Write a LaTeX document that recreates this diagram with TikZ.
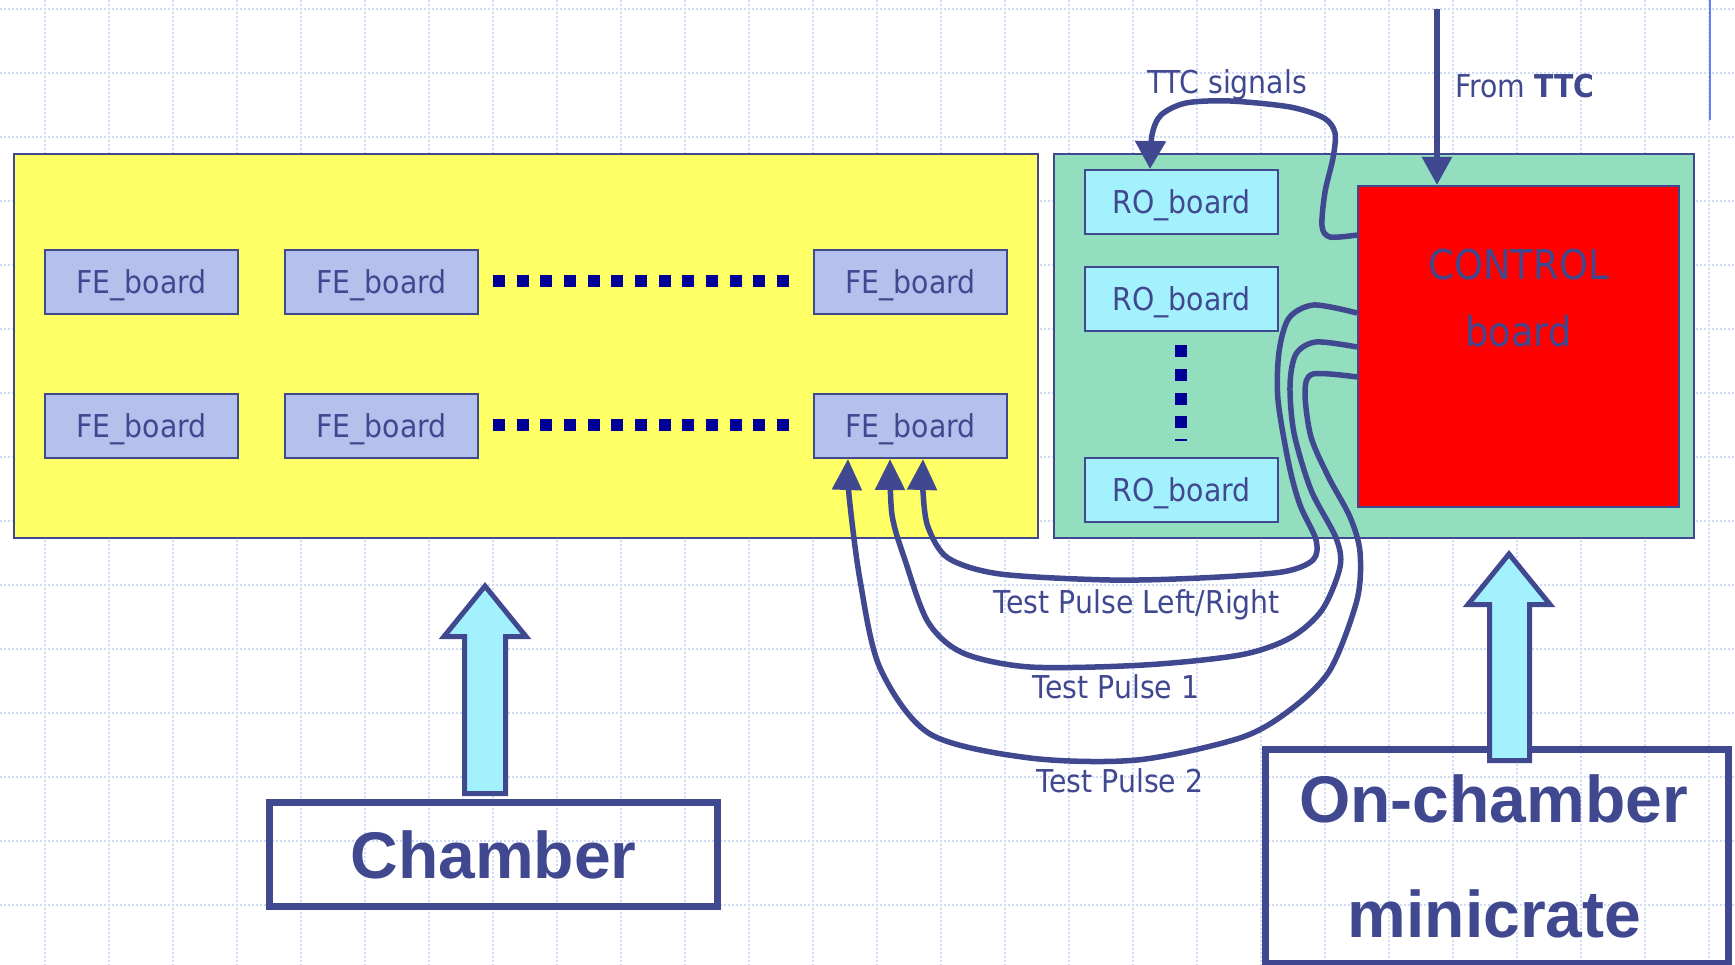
\documentclass[tikz,border=0pt]{standalone}
\usepackage{fontspec}
\setmainfont{DejaVu Sans}
\newfontfamily\labfont[FakeStretch=0.9]{DejaVu Sans}
\newfontfamily\headfont{Liberation Sans}
\usetikzlibrary{arrows.meta,calc}

\definecolor{ink}{RGB}{64,72,144}
\definecolor{gridc}{RGB}{206,217,248}
\definecolor{feyellow}{RGB}{255,255,102}
\definecolor{crategreen}{RGB}{146,222,190}
\definecolor{fefill}{RGB}{180,193,236}
\definecolor{rofill}{RGB}{162,241,253}
\definecolor{dotblue}{RGB}{0,0,153}
\definecolor{ctrlred}{RGB}{255,0,0}
\definecolor{edgeblue}{RGB}{100,128,240}

\newcommand\labsize{\fontsize{31.5}{36}\selectfont}

\tikzset{
  gridline/.style={gridc, line width=1.4pt, dash pattern=on 2pt off 2pt},
  panel/.style={draw=ink, line width=2pt, inner sep=0pt, anchor=north west},
  board/.style={panel, minimum width=193pt, minimum height=64pt, text=ink,
    font=\labfont\labsize, text height=23pt, text depth=0pt},
  feboard/.style={board, fill=fefill},
  roboard/.style={board, fill=rofill},
  wire/.style={draw=ink, line width=5.5pt, line join=round,
    -{Triangle[length=31pt,width=29pt]}},
  caption/.style={text=ink, font=\labfont\labsize, inner sep=0pt, anchor=base},
  ctrltext/.style={caption, font=\labfont\fontsize{41}{48}\selectfont},
  labelbox/.style={draw=ink, line width=7pt, inner sep=0pt, text=ink,
    font=\headfont\bfseries\fontsize{66}{80}\selectfont},
  bigtext/.style={text=ink, font=\headfont\bfseries\fontsize{66}{80}\selectfont,
    inner sep=0pt, anchor=base},
  bigarrow/.style={draw=ink, fill=rofill, line width=5pt, line join=miter},
}

\begin{document}
\begin{tikzpicture}[x=1pt,y=-1pt]
\useasboundingbox (0,0) rectangle (1735,965);

% background grid
\foreach \k in {0,...,26} \draw[gridline] ({45+64*\k},0) -- ({45+64*\k},965);
\foreach \k in {0,...,14} \draw[gridline] (0,{9+64*\k}) -- (1735,{9+64*\k});
\draw[edgeblue, line width=2pt] (1710,0) -- (1710,120);

% chamber area with the front-end boards
\node[panel, fill=feyellow, minimum width=1024pt, minimum height=384pt] (fearea) at (13,153) {};
\node[feboard] (fe11) at (44,249) {FE\_board};
\node[feboard] (fe12) at (284,249) {FE\_board};
\node[feboard] (fe13) at (813,249) {FE\_board};
\node[feboard] (fe21) at (44,393) {FE\_board};
\node[feboard] (fe22) at (284,393) {FE\_board};
\node[feboard] (fe23) at (813,393) {FE\_board};
\foreach \i in {0,...,12} {
  \fill[dotblue] ({493+23.67*\i},275) rectangle ++(12,12);
  \fill[dotblue] ({493+23.67*\i},419) rectangle ++(12,12);
}

% minicrate with read-out boards and control board
\node[panel, fill=crategreen, minimum width=640pt, minimum height=384pt] (roarea) at (1053,153) {};
\node[roboard] (ro1) at (1084,169) {RO\_board};
\node[roboard] (ro2) at (1084,266) {RO\_board};
\node[roboard] (ro3) at (1084,457) {RO\_board};
\foreach \y in {345,369,393,416} \fill[dotblue] (1175,\y) rectangle ++(12,12);
\fill[dotblue] (1175,439) rectangle (1187,441);

\node[panel, fill=ctrlred, minimum width=321pt, minimum height=321pt] (ctrl) at (1357,185) {};
\node[ctrltext] at ([yshift=-95pt]ctrl.north) {CONTROL};
\node[ctrltext] at ([yshift=-162pt]ctrl.north) {board};

% signal lines
\coordinate (ttcin) at (1437,9);
\draw[wire, -{Triangle[length=28pt,width=29pt]}] (ttcin) -- ([xshift=80pt]ctrl.north west);

\draw[wire, -{Triangle[length=28pt,width=30pt]}] plot[smooth, tension=0.5] coordinates {
  ([yshift=-50pt]ctrl.north west) (1330,237) (1322,226) (1325,192) (1333,158)
  (1335,133) (1324,118) (1290,107) (1230,101) (1186,103) (1161,115) (1152,135)
  ([xshift=66pt]ro1.north west)};

\draw[wire] plot[smooth, tension=0.5] coordinates {
  ([yshift=-128pt]ctrl.north west) (1314,305) (1289,318) (1279,352) (1278,400)
  (1289,465) (1300,505) (1316,540) (1313,560) (1282,572) (1200,578) (1110,580)
  (1000,574) (948,558) (928,527) (923,492) ([xshift=110pt]fe23.south west)};

\draw[wire] plot[smooth, tension=0.5] coordinates {
  ([yshift=-162pt]ctrl.north west) (1316,342) (1296,354) (1290,385) (1294,433)
  (1311,490) (1336,538) (1340,567) (1322,610) (1290,638) (1240,655) (1144,665)
  (1030,667) (963,653) (928,622) (905,560) (892,515) ([xshift=77pt]fe23.south west)};

\draw[wire] plot[smooth, tension=0.5] coordinates {
  ([yshift=-192pt]ctrl.north west) (1313,374) (1305,392) (1311,437) (1329,478)
  (1350,517) (1360,552) (1357,600) (1330,670) (1290,710) (1240,738) (1137,760)
  (1030,758) (930,734) (880,668) (860,580) (849,495) ([xshift=35pt]fe23.south west)};

% signal labels
\node[caption] (lttc) at (1227,94) {TTC signals};
\node[caption] (lfrom) at (1525,98) {From \textbf{TTC}};
\node[caption] (llr) at (1137,613) {Test Pulse Left/Right};
\node[caption] (ltp1) at (1116,698) {Test Pulse 1};
\node[caption] (ltp2) at (1120,792) {Test Pulse 2};

% lower legend boxes and their arrows
\node[labelbox, minimum width=448pt, minimum height=104pt] (chamber) at (493.5,854.5) {Chamber};
\draw[bigarrow] (485,586) -- (526,636.5) -- (505.5,636.5) -- (505.5,793.5)
  -- (464.5,793.5) -- (464.5,636.5) -- (444,636.5) -- cycle;

\node[labelbox, anchor=north west, minimum width=463pt, minimum height=214.5pt] (crate) at (1261.5,745.5) {};
\node[bigtext] at ([xshift=-3pt,yshift=-76.5pt]crate.north) {On-chamber};
\node[bigtext] at ([xshift=-2pt,yshift=-191.5pt]crate.north) {minicrate};
\draw[bigarrow] (1509,554) -- (1550,604.5) -- (1529.5,604.5) -- (1529.5,760.5)
  -- (1489.5,760.5) -- (1489.5,604.5) -- (1468,604.5) -- cycle;
\end{tikzpicture}
\end{document}
